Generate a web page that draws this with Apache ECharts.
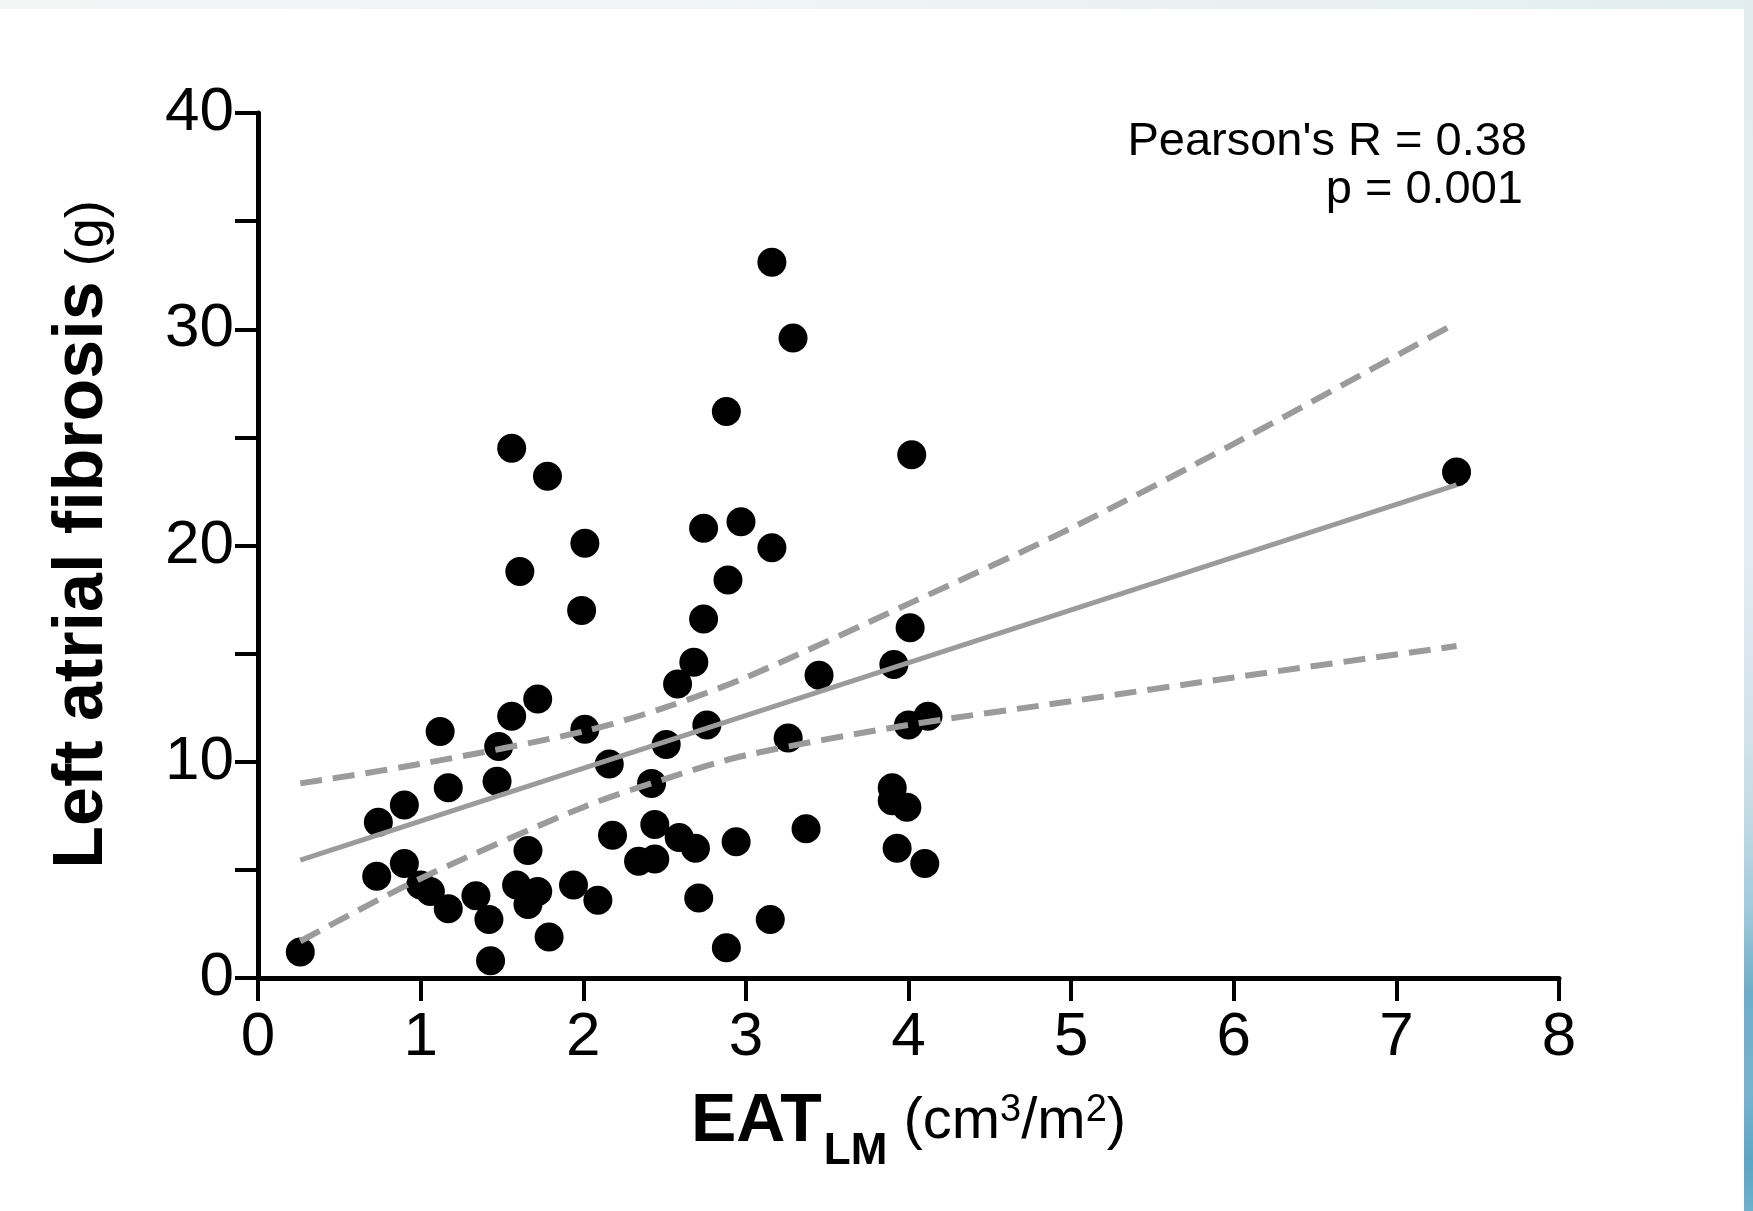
<!DOCTYPE html>
<html>
<head>
<meta charset="utf-8">
<title>Left atrial fibrosis vs EAT</title>
<script src="https://cdn.jsdelivr.net/npm/echarts@6/dist/echarts.min.js"></script>
<style>
  html, body { margin: 0; padding: 0; background: #fff; }
  #chart { width: 1753px; height: 1211px; }
</style>
</head>
<body>
<div id="chart"></div>
<script>
// EAT_LM (cm3/m2) vs left atrial fibrosis (g)
const eat = [
  0.26, 0.73, 0.74, 0.90, 0.90, 1.00, 1.06, 1.12, 1.17, 1.17,
  1.34, 1.42, 1.43, 1.47, 1.48, 1.56, 1.56, 1.59, 1.61, 1.66,
  1.66, 1.72, 1.72, 1.78, 1.79, 1.94, 1.99, 2.01, 2.01, 2.09,
  2.16, 2.18, 2.34, 2.42, 2.44, 2.44, 2.51, 2.58, 2.59, 2.68,
  2.69, 2.71, 2.74, 2.74, 2.76, 2.88, 2.88, 2.89, 2.94, 2.97,
  3.15, 3.16, 3.16, 3.26, 3.29, 3.37, 3.45, 3.90, 3.90, 3.91,
  3.93, 3.99, 4.00, 4.01, 4.02, 4.10, 4.12, 7.37
]
const fibrosis = [
  1.2, 4.7, 7.2, 8.0, 5.3, 4.3, 4.0, 11.4, 8.8, 3.2,
  3.8, 2.7, 0.8, 9.1, 10.7, 12.1, 24.5, 4.3, 18.8, 5.9,
  3.4, 4.0, 12.9, 23.2, 1.9, 4.3, 17.0, 20.1, 11.5, 3.6,
  9.9, 6.6, 5.4, 9.0, 7.1, 5.5, 10.8, 13.6, 6.5, 14.6,
  6.0, 3.7, 20.8, 16.6, 11.7, 1.4, 26.2, 18.4, 6.3, 21.1,
  2.7, 19.9, 33.1, 11.1, 29.6, 6.9, 14.0, 8.8, 8.2, 14.5,
  6.0, 7.9, 11.7, 16.2, 24.2, 5.3, 12.1, 23.4
]

// regression line and 95% band
const fitX = [0.26, 7.37]
const fitY = [5.45, 22.8]
const bandX = [0.26, 1, 2, 2.5, 3, 4, 5, 6, 7.37]
const bandUpper = [9.0, 9.9, 11.4, 12.5, 13.9, 17.3, 20.8, 24.7, 30.3]
const bandLower = [1.7, 4.6, 7.9, 9.2, 10.3, 11.7, 12.8, 13.9, 15.35]

const statLines = ["Pearson's R = 0.38", 'p = 0.001']

const FONT = "'Liberation Sans', Arial, Helvetica, sans-serif"
const GREY = '#9b9b9b'

const zip = (xs, ys) => xs.map((x, i) => [x, ys[i]])

const chart = echarts.init(document.getElementById('chart'))

chart.setOption({
  animation: false,
  backgroundColor: '#ffffff',
  grid: {
    left: 258,
    right: 194,
    top: 113,
    bottom: 233,
    containLabel: false,
    outerBoundsMode: 'none'
  },
  xAxis: {
    type: 'value',
    min: 0,
    max: 8,
    interval: 1,
    splitLine: { show: false },
    axisLine: { onZero: false, lineStyle: { color: '#000', width: 5 } },
    axisTick: { length: 23, lineStyle: { color: '#000', width: 4 } },
    axisLabel: { margin: 29, color: '#000', fontSize: 62, fontFamily: FONT },
    name: '{b|EAT}{s|LM}{n| (cm}{p|3}{n|/m}{p|2}{n|)}',
    nameLocation: 'middle',
    nameGap: 104,
    nameTextStyle: {
      color: '#000',
      fontFamily: FONT,
      rich: {
        b: { fontSize: 68, fontWeight: 'bold', fontFamily: FONT, color: '#000', lineHeight: 80 },
        s: { fontSize: 44, fontWeight: 'bold', fontFamily: FONT, color: '#000', lineHeight: 44, verticalAlign: 'top', padding: [48, 0, 0, 2] },
        n: { fontSize: 58, fontFamily: FONT, color: '#000', lineHeight: 80 },
        p: { fontSize: 38, fontFamily: FONT, color: '#000', lineHeight: 38, verticalAlign: 'top', padding: [10, 0, 0, 0] }
      }
    }
  },
  yAxis: {
    type: 'value',
    min: 0,
    max: 40,
    interval: 5,
    splitLine: { show: false },
    axisLine: { onZero: false, lineStyle: { color: '#000', width: 5 } },
    axisTick: { length: 23, lineStyle: { color: '#000', width: 4 } },
    axisLabel: {
      margin: 24,
      color: '#000',
      fontSize: 62,
      fontFamily: FONT,
      formatter: v => (v % 10 === 0 ? String(v) : '')
    },
    name: '{b|Left atrial fibrosis}{n| (g)}',
    nameLocation: 'middle',
    nameRotate: 90,
    nameGap: 135,
    nameTextStyle: {
      color: '#000',
      fontFamily: FONT,
      padding: [0, 0, 0, 22],
      rich: {
        b: { fontSize: 70, fontWeight: 'bold', fontFamily: FONT, color: '#000', lineHeight: 80 },
        n: { fontSize: 54, fontFamily: FONT, color: '#000', lineHeight: 80, padding: [10, 0, 0, 0] }
      }
    }
  },
  series: [
    {
      type: 'scatter',
      data: zip(eat, fibrosis),
      symbol: 'circle',
      symbolSize: 29,
      itemStyle: { color: '#000', opacity: 1 },
      silent: true,
      z: 2
    },
    {
      type: 'line',
      data: zip(fitX, fitY),
      showSymbol: false,
      symbol: 'none',
      lineStyle: { color: GREY, width: 5 },
      silent: true,
      z: 3
    },
    {
      type: 'line',
      data: zip(bandX, bandUpper),
      showSymbol: false,
      symbol: 'none',
      smooth: 0.3,
      lineStyle: { color: GREY, width: 6, type: [22, 11] },
      silent: true,
      z: 3
    },
    {
      type: 'line',
      data: zip(bandX, bandLower),
      showSymbol: false,
      symbol: 'none',
      smooth: 0.3,
      lineStyle: { color: GREY, width: 6, type: [22, 11] },
      silent: true,
      z: 3
    }
  ],
  graphic: [
    {
      type: 'rect',
      left: 0,
      top: 0,
      shape: { width: 1753, height: 9 },
      style: {
        fill: new echarts.graphic.LinearGradient(0, 0, 1, 0, [
          { offset: 0, color: '#f4f6f6' },
          { offset: 0.5, color: '#eef3f4' },
          { offset: 1, color: '#e2edef' }
        ])
      },
      silent: true
    },
    {
      type: 'rect',
      right: 0,
      top: 0,
      shape: { width: 9, height: 1211 },
      style: {
        fill: new echarts.graphic.LinearGradient(0, 0, 0, 1, [
          { offset: 0, color: '#e2ecef' },
          { offset: 0.45, color: '#e4edf3' },
          { offset: 0.6, color: '#d3e3ea' },
          { offset: 0.68, color: '#c0d9e4' },
          { offset: 0.75, color: '#9ecbdd' },
          { offset: 0.82, color: '#6cadcb' },
          { offset: 0.9, color: '#75b4d1' },
          { offset: 0.96, color: '#5ba5c8' },
          { offset: 1, color: '#6cb0cf' }
        ])
      },
      silent: true
    },
    {
      type: 'text',
      right: 226,
      top: 119,
      style: { text: statLines[0], fill: '#000', font: '47px ' + FONT },
      silent: true
    },
    {
      type: 'text',
      right: 230,
      top: 167,
      style: { text: statLines[1], fill: '#000', font: '47px ' + FONT },
      silent: true
    }
  ]
})
</script>
</body>
</html>
